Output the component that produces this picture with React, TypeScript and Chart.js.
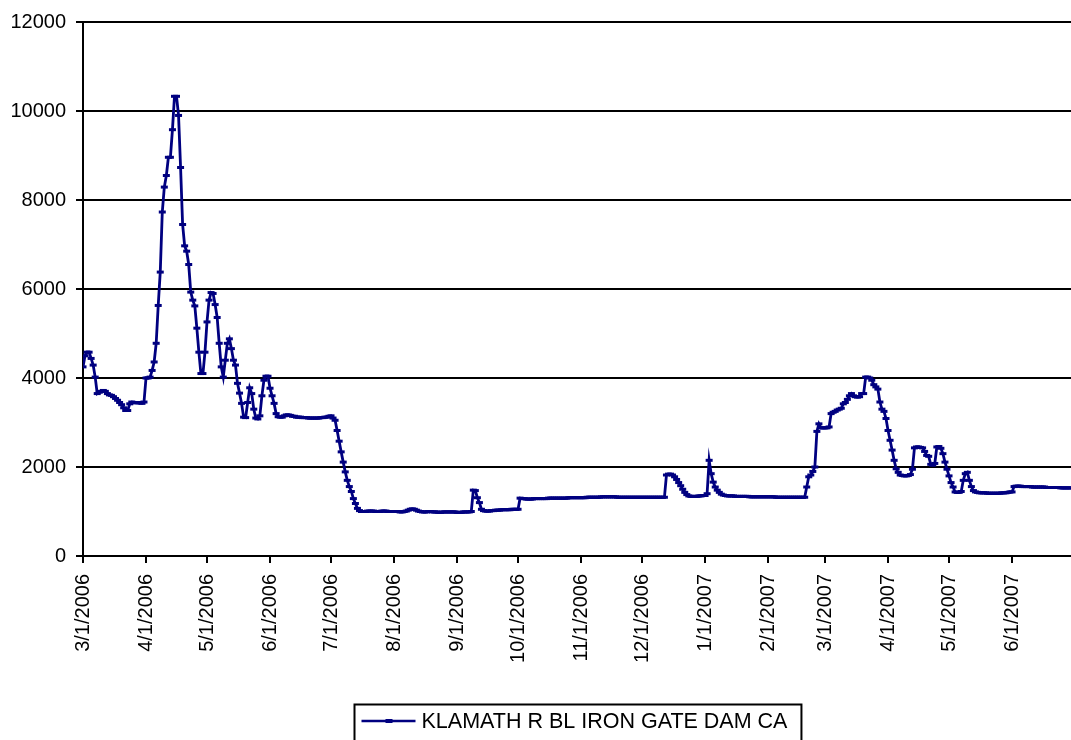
import React, { useEffect, useRef } from "react";
import { Chart, registerables } from "chart.js";

Chart.register(...registerables);

const seriesName = "KLAMATH R BL IRON GATE DAM CA";
const startDate = "3/1/2006";
const monthTickLabels = [
  "3/1/2006", "4/1/2006", "5/1/2006", "6/1/2006", "7/1/2006", "8/1/2006",
  "9/1/2006", "10/1/2006", "11/1/2006", "12/1/2006", "1/1/2007", "2/1/2007",
  "3/1/2007", "4/1/2007", "5/1/2007", "6/1/2007",
];
const yTickValues = [0, 2000, 4000, 6000, 8000, 10000, 12000];

// Daily flow values (cfs), one per day starting 3/1/2006
const mar2006 = [4250, 4500, 4580, 4580, 4440, 4290, 4020, 3650, 3680, 3700, 3720, 3700, 3650, 3620, 3610, 3580, 3540, 3500, 3450, 3400, 3330, 3270, 3270, 3420, 3460, 3450, 3440, 3450, 3440, 3430, 3460];
const apr2006 = [4000, 4000, 4020, 4170, 4360, 4780, 5630, 6380, 7730, 8290, 8550, 8960, 8960, 9580, 10330, 10330, 9900, 8730, 7450, 6970, 6850, 6550, 5930, 5750, 5620, 5120, 4580, 4100, 4100, 4580];
const may2006 = [5260, 5750, 5920, 5900, 5650, 5360, 4780, 4250, 4020, 4400, 4780, 4880, 4660, 4400, 4290, 3880, 3660, 3430, 3120, 3110, 3450, 3780, 3650, 3300, 3100, 3080, 3150, 3600, 3950, 4040, 4040];
const jun2006 = [3770, 3600, 3430, 3200, 3130, 3120, 3120, 3150, 3170, 3170, 3160, 3140, 3140, 3120, 3120, 3120, 3110, 3110, 3110, 3100, 3100, 3100, 3100, 3100, 3100, 3110, 3110, 3120, 3120, 3140];
const jul2006 = [3150, 3100, 3050, 2820, 2580, 2340, 2110, 1890, 1700, 1560, 1450, 1290, 1180, 1070, 1020, 1000, 1000, 1000, 1010, 1010, 1010, 1010, 1000, 1000, 1000, 1010, 1010, 1010, 1000, 1000, 1000];
const aug2006 = [1000, 1000, 1000, 990, 990, 1000, 1010, 1030, 1050, 1060, 1050, 1030, 1010, 1000, 990, 990, 990, 1000, 1000, 990, 990, 990, 980, 980, 990, 990, 990, 990, 990, 990, 990];
const sep2006 = [980, 980, 980, 990, 990, 990, 990, 1000, 1480, 1470, 1310, 1200, 1050, 1020, 1010, 1010, 1010, 1020, 1020, 1030, 1030, 1030, 1040, 1040, 1040, 1040, 1040, 1050, 1050, 1050];
const oct2006 = [1050, 1300, 1290, 1290, 1280, 1280, 1280, 1280, 1290, 1290, 1290, 1290, 1290, 1290, 1290, 1300, 1300, 1300, 1300, 1300, 1300, 1300, 1300, 1300, 1300, 1310, 1310, 1310, 1310, 1310, 1310];
const nov2006 = [1310, 1310, 1310, 1320, 1320, 1320, 1320, 1320, 1320, 1320, 1330, 1330, 1330, 1330, 1330, 1330, 1330, 1330, 1320, 1320, 1320, 1320, 1320, 1320, 1320, 1320, 1320, 1320, 1320, 1320];
const dec2006 = [1320, 1320, 1320, 1320, 1320, 1320, 1320, 1320, 1320, 1320, 1320, 1320, 1820, 1840, 1840, 1820, 1780, 1720, 1650, 1580, 1500, 1430, 1380, 1350, 1340, 1340, 1340, 1340, 1350, 1350, 1360];
const jan2007 = [1360, 1400, 2150, 1850, 1660, 1550, 1480, 1430, 1390, 1370, 1360, 1350, 1350, 1350, 1350, 1340, 1340, 1340, 1340, 1340, 1340, 1340, 1330, 1330, 1330, 1330, 1330, 1330, 1330, 1330, 1330];
const feb2007 = [1330, 1330, 1330, 1330, 1320, 1320, 1320, 1320, 1320, 1320, 1320, 1320, 1320, 1320, 1320, 1320, 1320, 1320, 1320, 1550, 1780, 1820, 1900, 2000, 2800, 2970, 2880, 2880];
const mar2007 = [2880, 2880, 2900, 3200, 3230, 3250, 3280, 3300, 3320, 3420, 3450, 3520, 3600, 3650, 3600, 3580, 3570, 3580, 3650, 3650, 4020, 4020, 4000, 3950, 3850, 3800, 3750, 3460, 3300, 3250, 3090];
const apr2007 = [2820, 2600, 2380, 2150, 1960, 1880, 1820, 1810, 1800, 1800, 1810, 1830, 1950, 2430, 2450, 2450, 2440, 2430, 2350, 2260, 2240, 2060, 2040, 2080, 2450, 2460, 2420, 2300, 2110, 1950];
const may2007 = [1800, 1650, 1550, 1440, 1430, 1430, 1450, 1700, 1850, 1880, 1700, 1560, 1470, 1440, 1430, 1420, 1420, 1420, 1420, 1410, 1410, 1410, 1410, 1410, 1410, 1410, 1420, 1420, 1420, 1430, 1440];
const jun2007 = [1440, 1560, 1570, 1570, 1570, 1560, 1560, 1560, 1560, 1560, 1550, 1550, 1550, 1550, 1550, 1550, 1550, 1540, 1540, 1540, 1540, 1540, 1540, 1540, 1530, 1530, 1530, 1530, 1530, 1530];

const dailyFlow = [
  ...mar2006, ...apr2006, ...may2006, ...jun2006, ...jul2006, ...aug2006,
  ...sep2006, ...oct2006, ...nov2006, ...dec2006, ...jan2007, ...feb2007,
  ...mar2007, ...apr2007, ...may2007, ...jun2007,
];

const FONT = "'Liberation Sans', Arial, sans-serif";
const LINE_COLOR = "#000080";

function parseMDY(s: string): number {
  const [m, d, y] = s.split("/").map(Number);
  return Date.UTC(y, m - 1, d);
}
function dayIndex(label: string): number {
  return Math.round((parseMDY(label) - parseMDY(startDate)) / 86400000);
}
const tickDays = monthTickLabels.map(dayIndex);

const boxedLegend = {
  id: "boxedLegend",
  afterDraw(chart: any) {
    const ctx = chart.ctx as CanvasRenderingContext2D;
    const area = chart.chartArea;
    ctx.save();
    ctx.font = `21.5px ${FONT}`;
    const tw = ctx.measureText(seriesName).width;
    const boxW = 7 + 54 + 6 + tw + 14;
    const boxX = Math.round((area.left + area.right) / 2 - boxW / 2) + 0.5;
    const boxY = 704.5;
    ctx.strokeStyle = "#000";
    ctx.lineWidth = 2;
    ctx.strokeRect(boxX, boxY, boxW, 60);
    const ly = 721;
    ctx.strokeStyle = LINE_COLOR;
    ctx.lineWidth = 2.5;
    ctx.beginPath();
    ctx.moveTo(boxX + 7, ly);
    ctx.lineTo(boxX + 61, ly);
    ctx.stroke();
    ctx.fillStyle = LINE_COLOR;
    ctx.fillRect(boxX + 31, ly - 2, 7, 4);
    ctx.fillStyle = "#000";
    ctx.textBaseline = "middle";
    ctx.textAlign = "left";
    ctx.fillText(seriesName, boxX + 67, ly + 1);
    ctx.restore();
  },
};

export default function App() {
  const canvasRef = useRef<HTMLCanvasElement | null>(null);

  useEffect(() => {
    const canvas = canvasRef.current;
    if (!canvas) return;
    const chart = new Chart(canvas, {
      type: "line",
      data: {
        datasets: [
          {
            label: seriesName,
            data: dailyFlow.map((v, i) => ({ x: i, y: v })),
            borderColor: LINE_COLOR,
            backgroundColor: LINE_COLOR,
            borderWidth: 2.8,
            pointStyle: "line",
            pointRadius: 3.5,
            pointHoverRadius: 3.5,
            pointBorderWidth: 3,
            pointBorderColor: LINE_COLOR,
            pointBackgroundColor: LINE_COLOR,
            tension: 0,
            fill: false,
          },
        ],
      },
      options: {
        animation: false,
        responsive: false,
        devicePixelRatio: 1,
        layout: { autoPadding: false, padding: { left: 10, top: 20, right: 0, bottom: 0 } },
        plugins: {
          legend: { display: false },
          tooltip: { enabled: false },
        },
        scales: {
          x: {
            type: "linear",
            min: 0,
            max: dailyFlow.length - 1,
            afterBuildTicks: (scale: any) => {
              scale.ticks = tickDays.map((v) => ({ value: v }));
            },
            afterFit: (scale: any) => {
              scale.height = 184;
              scale.paddingLeft = 0;
              scale.paddingRight = 0;
            },
            ticks: {
              autoSkip: false,
              maxRotation: 90,
              minRotation: 90,
              padding: 11,
              color: "#000",
              font: { family: FONT, size: 20 },
              callback: (value: any) => {
                const i = tickDays.indexOf(Number(value));
                return i >= 0 ? monthTickLabels[i] : "";
              },
            },
            grid: {
              drawOnChartArea: false,
              drawTicks: true,
              tickLength: 7,
              color: "#000",
              lineWidth: 2,
            },
            border: { display: true, color: "#000", width: 2 },
          },
          y: {
            type: "linear",
            min: 0,
            max: 12000,
            afterBuildTicks: (scale: any) => {
              scale.ticks = yTickValues.map((v) => ({ value: v }));
            },
            afterFit: (scale: any) => {
              scale.width = 73;
            },
            ticks: {
              padding: 10,
              color: "#000",
              font: { family: FONT, size: 20 },
              callback: (value: any) => String(value),
            },
            grid: {
              drawTicks: true,
              tickLength: 7,
              color: "#000",
              lineWidth: 2,
            },
            border: { display: true, color: "#000", width: 2 },
          },
        },
      },
      plugins: [boxedLegend],
    });
    return () => chart.destroy();
  }, []);

  return (
    <div
      style={{
        position: "fixed",
        left: 0,
        top: 0,
        width: 1071,
        height: 740,
        background: "#fff",
        overflow: "hidden",
      }}
    >
      <canvas ref={canvasRef} width={1071} height={740} style={{ display: "block" }} />
    </div>
  );
}
